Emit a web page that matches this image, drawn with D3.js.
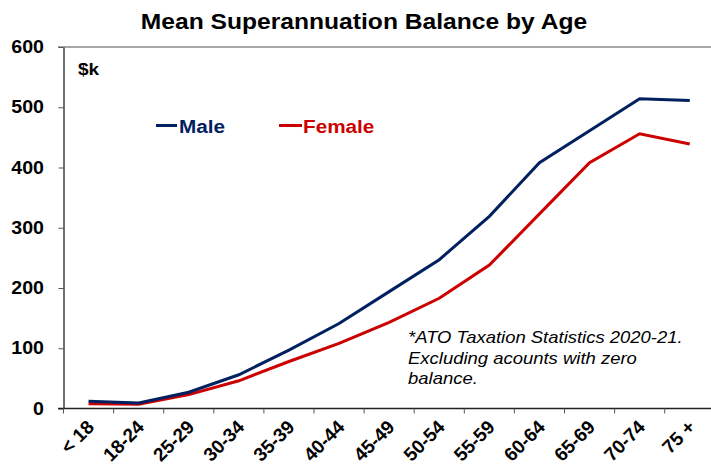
<!DOCTYPE html>
<meta charset="utf-8">
<title>Mean Superannuation Balance by Age</title>
<style>
  body { margin: 0; background: #fff; }
  svg { display: block; font-family: "Liberation Sans", Arial, sans-serif; }
</style>
<script src="https://d3js.org/d3.v7.min.js"></script>
<div id="chart"></div>
<script>
var categories = ["< 18","18-24","25-29","30-34","35-39","40-44","45-49","50-54","55-59","60-64","65-69","70-74","75 +"];
var male   = [12, 9, 27, 56, 97, 141, 194, 247, 319, 408, 461, 514, 511];
var female = [8, 7, 23, 46, 78, 108, 143, 183, 238, 323, 408, 456, 439];
var yTicks = [0, 100, 200, 300, 400, 500, 600];

var W = 711, H = 467;
var SX = 1.12; // text in the picture is a bit wide

var svg = d3.select("#chart").append("svg")
    .attr("width", W).attr("height", H);

var x = d3.scaleBand()
    .domain(categories)
    .range([63.5, 63.5 + 13 * 50.1])
    .paddingInner(0).paddingOuter(0);

var y = d3.scaleLinear()
    .domain([0, 600])
    .range([408.5, 47]);

// stretched text helper
function label(g, tx, ty, str, size, opts) {
  opts = opts || {};
  var t = g.append("g")
      .attr("transform", "translate(" + tx + "," + ty + ") scale(" + (opts.sx || SX) + ",1)")
    .append("text")
      .attr("font-size", size)
      .attr("font-weight", opts.weight || "bold")
      .attr("font-style", opts.style || "normal")
      .attr("fill", opts.fill || "#000")
      .attr("text-anchor", opts.anchor || "start")
      .text(str);
  return t;
}

// top border line
svg.append("line")
    .attr("x1", 58).attr("x2", W)
    .attr("y1", y(600)).attr("y2", y(600))
    .attr("stroke", "#8a8a8a").attr("stroke-width", 1.5);

// y axis
var yAxis = svg.append("g")
    .attr("transform", "translate(" + x.range()[0] + ",0)")
    .call(d3.axisLeft(y).tickValues(yTicks).tickSize(5).tickSizeOuter(0).tickFormat(d3.format("d")));
yAxis.select(".domain").attr("stroke", "#222").attr("stroke-width", 1.3);
yAxis.selectAll(".tick line").attr("stroke", "#555");
yAxis.selectAll(".tick text").remove();
yTicks.forEach(function(v) {
  label(svg, 44, y(v) + 6, String(v), 17.5, {anchor: "end"});
});

// x axis
svg.append("line")
    .attr("x1", 58).attr("x2", W)
    .attr("y1", y(0)).attr("y2", y(0))
    .attr("stroke", "#222").attr("stroke-width", 1.3);
svg.selectAll(".xtick")
    .data(categories)
  .enter().append("line")
    .attr("class", "xtick")
    .attr("x1", function(d) { return x(d); })
    .attr("x2", function(d) { return x(d); })
    .attr("y1", y(0)).attr("y2", y(0) + 5)
    .attr("stroke", "#555");

svg.selectAll(".xlab")
    .data(categories)
  .enter().append("text")
    .attr("class", "xlab")
    .attr("transform", function(d) {
      return "translate(" + (x(d) + x.bandwidth() / 2 + 2) + "," + (y(0) + 15) + ") rotate(-45)";
    })
    .attr("text-anchor", "end")
    .attr("font-size", 19)
    .attr("font-weight", "bold")
    .attr("dy", "0.35em")
    .text(function(d) { return d; });

// lines
var line = d3.line()
    .x(function(d, i) { return x(categories[i]) + x.bandwidth() / 2; })
    .y(function(d) { return y(d); });

svg.append("path")
    .datum(female)
    .attr("fill", "none")
    .attr("stroke", "#cc0000")
    .attr("stroke-width", 3)
    .attr("d", line);

svg.append("path")
    .datum(male)
    .attr("fill", "none")
    .attr("stroke", "#002060")
    .attr("stroke-width", 3)
    .attr("d", line);

// title
label(svg, 364, 29, "Mean Superannuation Balance by Age", 22, {anchor: "middle"});

// unit
label(svg, 78, 75, "$k", 17);

// legend
svg.append("line").attr("x1", 156).attr("x2", 177).attr("y1", 125.5).attr("y2", 125.5)
    .attr("stroke", "#002060").attr("stroke-width", 3);
label(svg, 179, 133, "Male", 18.5, {fill: "#002060"});
svg.append("line").attr("x1", 279).attr("x2", 302).attr("y1", 125.5).attr("y2", 125.5)
    .attr("stroke", "#cc0000").attr("stroke-width", 3);
label(svg, 303, 133, "Female", 18.5, {fill: "#cc0000"});

// note
var note = ["*ATO Taxation Statistics 2020-21.", "Excluding acounts with zero", "balance."];
note.forEach(function(s, i) {
  label(svg, 408, 343 + i * 20.7, s, 16.5, {weight: "normal", style: "italic"});
});
</script>
